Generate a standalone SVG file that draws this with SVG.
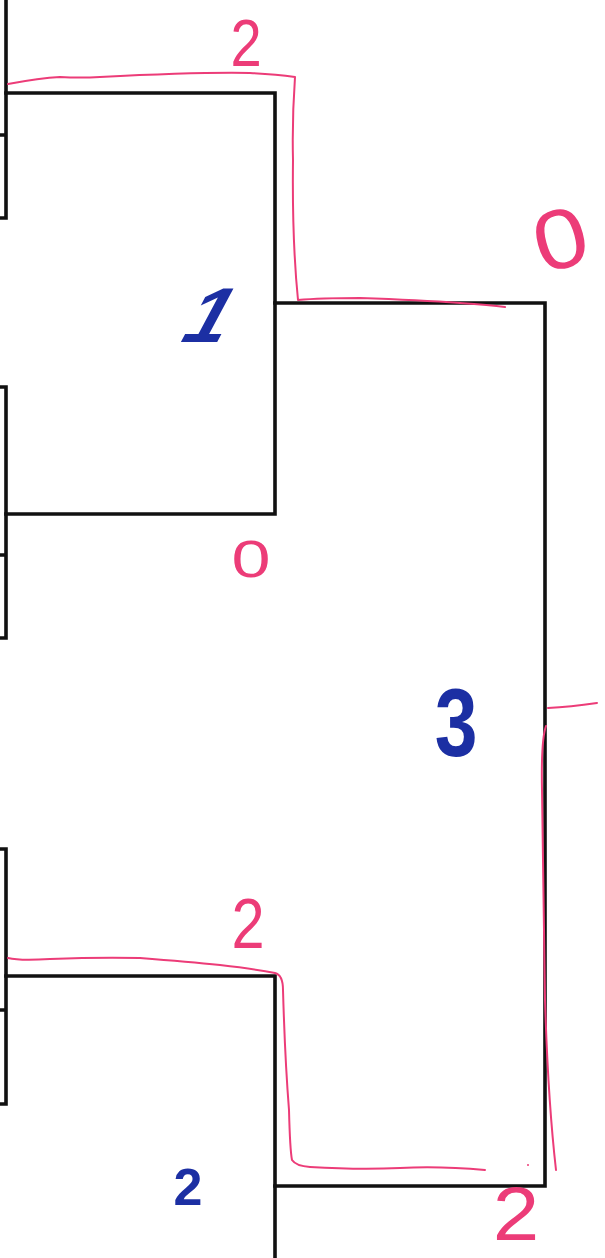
<svg xmlns="http://www.w3.org/2000/svg" width="605" height="1258" viewBox="0 0 605 1258">
<style>
.blk{fill:none;stroke:#111;stroke-width:3.6;stroke-linecap:square;stroke-linejoin:miter}
.pk{fill:none;stroke:#ec3c78;stroke-width:2;stroke-linecap:round;stroke-linejoin:round}
.pt{fill:#ec3c78;font-family:"Liberation Sans",Arial,sans-serif;font-weight:normal}
.bt{fill:#1c2fa3;font-family:"Liberation Sans",Arial,sans-serif;font-weight:bold}
</style>
<rect width="605" height="1258" fill="#fff"/>
<g id="tree">
<path class="blk" d="M6,0 V218 H0 M0,135 H6"/>
<path class="blk" d="M6,93 H275 V514 H6"/>
<path class="blk" d="M0,387 H6 V638 H0 M0,555 H6"/>
<path class="blk" d="M275,303 H545 V1186 H275"/>
<path class="blk" d="M275,1258 V976 H6"/>
<path class="blk" d="M0,849 H6 V1104 H0 M0,1010 H6"/>
</g>
<g id="annotations">
<path class="pk" d="M8,84 Q40,78 60,77 Q80,78 100,77 Q200,72 250,73 Q275,74 295,77 Q292,120 293,160 Q292,240 298,300 Q320,298 360,298 Q420,300 460,303 Q490,305 505,307"/>
<path class="pk" d="M8,958 Q20,961 50,959 Q100,957 140,958 Q190,962 220,965 Q255,969 275,973 Q283,975 283,990 Q285,1060 289,1110 Q290,1150 292,1160 Q296,1166 310,1167 Q360,1170 400,1168 Q440,1166 485,1170"/>
<path class="pk" d="M548,708 Q570,707 597,703"/>
<path class="pk" d="M546,726 Q541,740 542,790 Q544,900 545,1000 Q548,1100 556,1170"/>
<circle cx="528" cy="1165" r="1" fill="#ec3c78"/>
</g>
<g id="labels">
<text class="pt" x="246" y="66" font-size="66" text-anchor="middle" transform="translate(246,42) scale(0.85,1) translate(-246,-42)">2</text>
<text class="pt" x="560" y="268" font-size="84" text-anchor="middle" transform="translate(560,237) rotate(-15) scale(1.15,1) translate(-560,-237)">0</text>
<text class="pt" x="251" y="577" font-size="52" text-anchor="middle" transform="translate(251,559) scale(1.35,1) translate(-251,-559)">0</text>
<text class="pt" x="248" y="948" font-size="70" text-anchor="middle" transform="translate(248,922) scale(0.85,1) translate(-248,-922)">2</text>
<text class="pt" x="516" y="1240" font-size="76" text-anchor="middle" transform="translate(516,1213) scale(1.1,1) translate(-516,-1213)">2</text>
<text class="bt" x="213" y="342" font-size="78" text-anchor="middle" transform="translate(213,313) skewX(-28) translate(-213,-313)">1</text>
<text class="bt" x="456" y="756" font-size="96" text-anchor="middle" transform="translate(456,721) scale(0.8,1) translate(-456,-721)">3</text>
<text class="bt" x="188" y="1205" font-size="52" text-anchor="middle">2</text>
</g>
</svg>
